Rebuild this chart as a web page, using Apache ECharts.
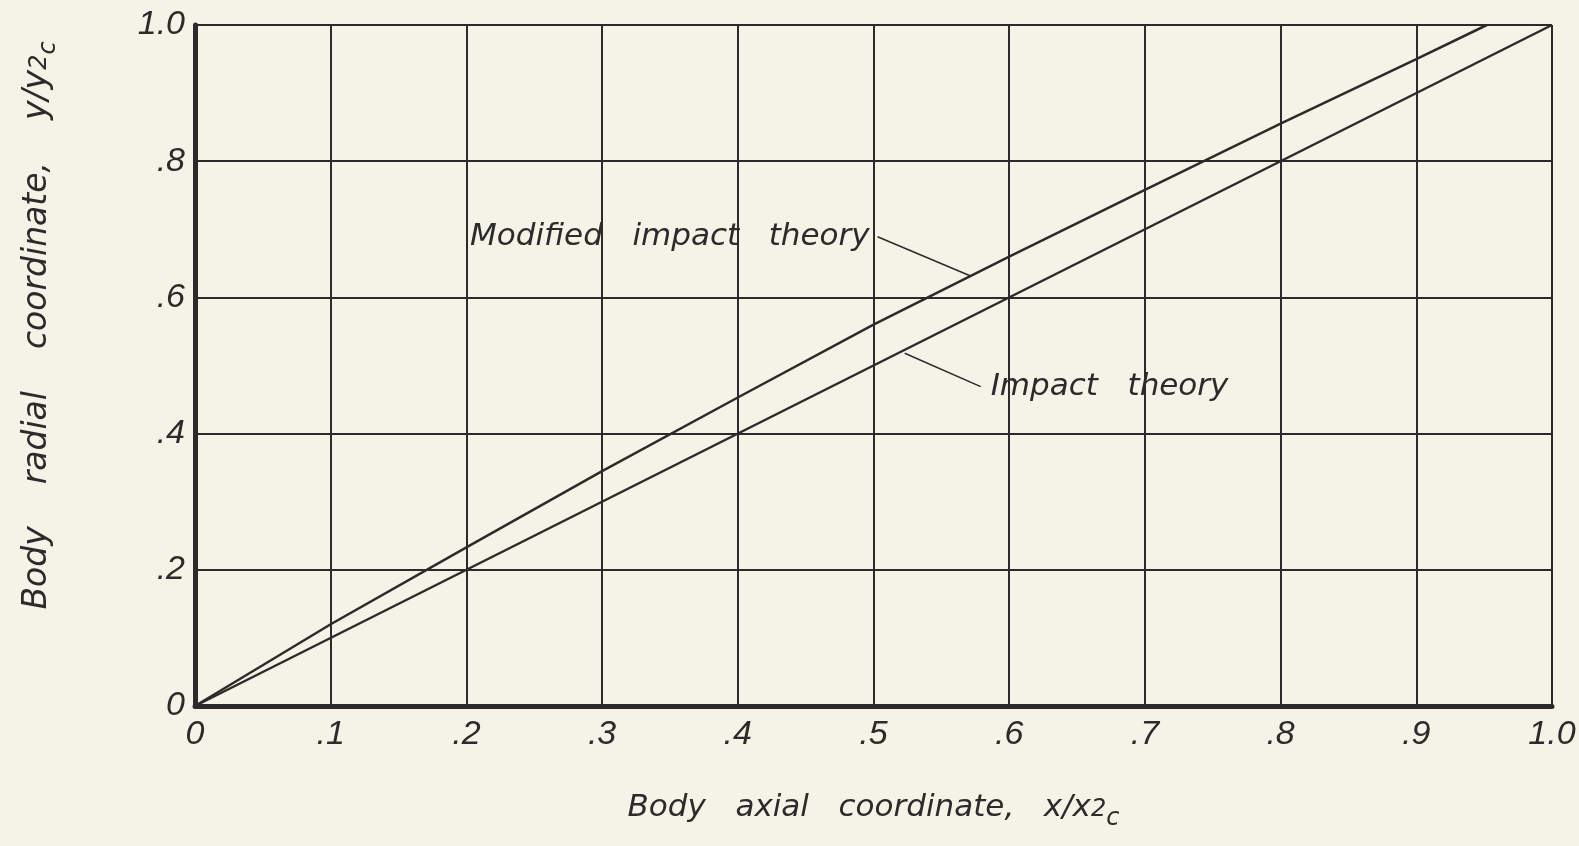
<!DOCTYPE html>
<html>
<head>
<meta charset="utf-8">
<script src="https://cdn.jsdelivr.net/npm/echarts@6/dist/echarts.min.js"></script>
<style>
html, body { margin: 0; padding: 0; background: #f5f2e7; }
#chart { width: 1579px; height: 846px; }
</style>
</head>
<body>
<div id="chart"></div>
<script>
// impact theory: straight cone
const impactX = [0, 1.0];
const impactY = [0, 1.0];
// modified impact theory
const modX = [0, 0.1, 0.2, 0.3, 0.4, 0.5, 0.6, 0.7, 0.8, 0.9, 0.952];
const modY = [0, 0.12, 0.233, 0.345, 0.453, 0.56, 0.66, 0.758, 0.855, 0.95, 1.0];

// annotation text + leader lines (data coords)
const modLabel = 'Modified   impact   theory';
const modLeader = [[0.572, 0.631], [0.503, 0.689]];
const impLabel = 'Impact   theory';
const impLeader = [[0.523, 0.518], [0.579, 0.469]];

const ink = '#2b2b2b';
const font = 'DejaVu Sans';
const tickFont = 'Liberation Sans';

function tickFmt(v){
    if (v === 0) return '0';
    if (Math.abs(v - 1) < 1e-9) return '1.0';
    return '.' + Math.round(v * 10);
}

function pairs(xs, ys){
    return xs.map(function(x, i){ return [x, ys[i]]; });
}

const subRich = {
    s: { fontSize: 24, fontStyle: 'italic', fontFamily: font, color: ink, padding: [14, 0, 0, 0], verticalAlign: 'top' },
    c: { fontSize: 24, fontStyle: 'italic', fontFamily: font, color: ink, padding: [23, 0, 0, 0], verticalAlign: 'top' }
};

let chart = echarts.init(document.getElementById('chart'));
chart.setOption({
    backgroundColor: '#f5f2e7',
    animation: false,
    grid: {
        left: 195,
        right: 27,
        top: 25,
        bottom: 140
    },
    xAxis: {
        type: 'value',
        min: 0,
        max: 1,
        interval: 0.1,
        name: 'Body   axial   coordinate,   x/x{s|2}{c|c}',
        nameLocation: 'middle',
        nameGap: 78,
        nameTextStyle: {
            color: ink,
            fontFamily: font,
            fontStyle: 'italic',
            fontSize: 31,
            verticalAlign: 'top',
            rich: subRich
        },
        axisLine: { show: true, onZero: false, lineStyle: { color: ink, width: 5 } },
        axisTick: { show: false },
        axisLabel: {
            color: ink,
            fontFamily: tickFont,
            fontStyle: 'italic',
            fontSize: 34,
            margin: 12,
            formatter: tickFmt
        },
        splitLine: { show: true, lineStyle: { color: ink, width: 2 } }
    },
    yAxis: {
        type: 'value',
        min: 0,
        max: 1,
        interval: 0.2,
        name: 'Body    radial    coordinate,    y/y{s|2}{c|c}',
        nameLocation: 'middle',
        nameGap: 134,
        nameTextStyle: {
            color: ink,
            fontFamily: font,
            fontStyle: 'italic',
            fontSize: 33,
            padding: [0, 0, 0, 80],
            rich: subRich
        },
        axisLine: { show: true, onZero: false, lineStyle: { color: ink, width: 5 } },
        axisTick: { show: false },
        axisLabel: {
            color: ink,
            fontFamily: tickFont,
            fontStyle: 'italic',
            fontSize: 34,
            margin: 10,
            formatter: tickFmt
        },
        splitLine: { show: true, lineStyle: { color: ink, width: 2 } }
    },
    series: [
        {
            name: 'Impact theory',
            type: 'line',
            data: pairs(impactX, impactY),
            showSymbol: false,
            lineStyle: { color: ink, width: 2.5 },
            markLine: {
                silent: true,
                symbol: ['none', 'none'],
                label: { show: false },
                lineStyle: { color: ink, width: 1.5, type: 'solid' },
                data: [
                    [{ coord: impLeader[0] }, { coord: impLeader[1] }]
                ]
            }
        },
        {
            name: 'Modified impact theory',
            type: 'line',
            data: pairs(modX, modY),
            showSymbol: false,
            lineStyle: { color: ink, width: 2.5 },
            markLine: {
                silent: true,
                symbol: ['none', 'none'],
                label: { show: false },
                lineStyle: { color: ink, width: 1.5, type: 'solid' },
                data: [
                    [{ coord: modLeader[0] }, { coord: modLeader[1] }]
                ]
            }
        },
        {
            name: 'labels',
            type: 'scatter',
            symbolSize: 0,
            silent: true,
            itemStyle: { opacity: 1, color: ink },
            data: [
                { value: modLeader[1], label: { formatter: modLabel, position: 'left', distance: 8 } },
                { value: impLeader[1], label: { formatter: impLabel, position: 'right', distance: 10 } }
            ],
            label: {
                show: true,
                color: ink,
                fontFamily: font,
                fontStyle: 'italic',
                fontSize: 31
            }
        }
    ]
});
</script>
</body>
</html>
